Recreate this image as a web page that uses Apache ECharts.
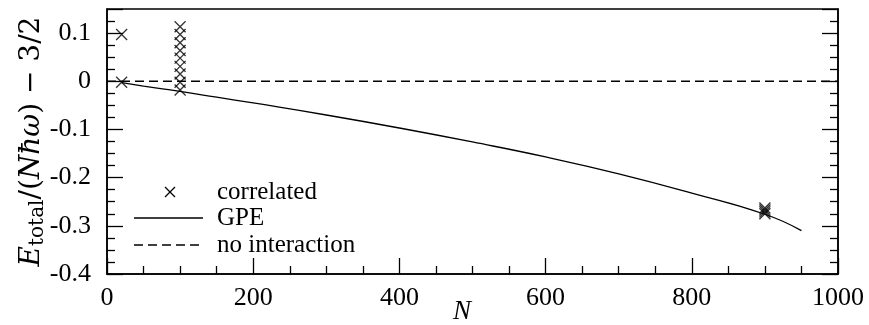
<!DOCTYPE html>
<html>
<head>
<meta charset="utf-8">
<script src="https://cdn.jsdelivr.net/npm/echarts@6/dist/echarts.min.js"></script>
<style>
  html, body { margin: 0; padding: 0; background: #fff; }
  #chart { width: 869px; height: 325px; }
</style>
</head>
<body>
<div id="chart"></div>
<script>
// Axis ticks
const xTicks = [0, 200, 400, 600, 800, 1000];
const yTicks = [-0.4, -0.3, -0.2, -0.1, 0, 0.1];
const yTop = 0.15;

// Correlated many-body results
const corrN = [20, 20, 100, 100, 100, 100, 100, 100, 100, 100, 100, 900, 900, 900, 900];
const corrE = [0.097, -0.002, 0.113, 0.097, 0.080, 0.064, 0.048, 0.031, 0.015, -0.002, -0.018,
               -0.263, -0.267, -0.271, -0.275];

// Gross-Pitaevskii curve
const gpeN = [20, 50, 100, 150, 200, 300, 400, 500, 600, 700, 800, 900, 950];
const gpeE = [-0.003, -0.010, -0.021, -0.033, -0.045, -0.070, -0.097, -0.126, -0.157, -0.192, -0.232, -0.276, -0.310];

// Non-interacting reference
const freeN = [0, 1000];
const freeE = [0, 0];

// Legend entries
const legendNames = ['correlated', 'GPE', 'no interaction'];

const FONT = 'Liberation Serif';
const TITLE_FONT = 'DejaVu Serif';
const zip = (a, b) => a.map((v, i) => [v, b[i]]);
const crossPath = 'path://M0,0L10,10M10,0L0,10';

const chart = echarts.init(document.getElementById('chart'), null, { renderer: 'canvas' });

const yLabel = v => {
  const r = Math.round(v * 100) / 100;
  return r === 0 ? '0' : String(r);
};

// Hand-built legend box: sample glyph on the left, label on the right
const LX = 134, LY = [192, 218, 245], TX = 217;
const legendGraphics = [
  { type: 'line', shape: { x1: LX + 31, y1: LY[0] - 5, x2: LX + 41, y2: LY[0] + 5 }, style: { stroke: '#000', lineWidth: 1.3 } },
  { type: 'line', shape: { x1: LX + 31, y1: LY[0] + 5, x2: LX + 41, y2: LY[0] - 5 }, style: { stroke: '#000', lineWidth: 1.3 } },
  { type: 'line', shape: { x1: LX, y1: LY[1], x2: LX + 69, y2: LY[1] }, style: { stroke: '#000', lineWidth: 1.3 } },
  { type: 'line', shape: { x1: LX, y1: LY[2], x2: LX + 69, y2: LY[2] }, style: { stroke: '#000', lineWidth: 1.3, lineDash: [9, 5] } }
].concat(legendNames.map((name, i) => ({
  type: 'text', x: TX, y: LY[i],
  style: { text: name, font: '25px "' + FONT + '"', fill: '#000', textVerticalAlign: 'middle', verticalAlign: 'middle' }
})));

// Horizontal axis title
legendGraphics.push({
  type: 'text', x: 462, y: 312,
  style: { text: 'N', font: 'italic 27px "' + FONT + '"', fill: '#000', align: 'center', verticalAlign: 'middle' }
});

chart.setOption({
  animation: false,
  backgroundColor: '#fff',
  grid: {
    left: 107, right: 31, top: 9, bottom: 51,
    outerBoundsMode: 'none',
    containLabel: false,
    show: true, borderColor: '#000', borderWidth: 1.5, backgroundColor: 'transparent'
  },
  graphic: legendGraphics,
  xAxis: {
    type: 'value',
    min: xTicks[0], max: xTicks[xTicks.length - 1], interval: 200,
    axisLine: { onZero: false, lineStyle: { color: '#000', width: 1.5 } },
    axisTick: { inside: true, length: 16, lineStyle: { color: '#000', width: 1.3 } },
    minorTick: { show: true, splitNumber: 4, length: 8, lineStyle: { color: '#000', width: 1.3 } },
    axisLabel: { fontFamily: FONT, fontSize: 26, color: '#000', margin: 11, formatter: v => String(v) },
    splitLine: { show: false }
  },
  yAxis: [{
    type: 'value',
    min: yTicks[0], max: yTop, interval: 0.1,
    name: '{e|E}{sub|total}{t|/(}{e|Nħω}{t|) − 3/2}',
    nameLocation: 'middle', nameGap: 60, nameRotate: 90, nameMoveOverlap: false,
    nameTextStyle: {
      color: '#000',
      rich: {
        e: { fontFamily: TITLE_FONT, fontStyle: 'italic', fontSize: 28, color: '#000', lineHeight: 30 },
        t: { fontFamily: TITLE_FONT, fontSize: 28, color: '#000', lineHeight: 30 },
        sub: { fontFamily: TITLE_FONT, fontSize: 20, color: '#000', lineHeight: 30, padding: [12, 0, 0, 0] }
      }
    },
    axisLine: { onZero: false, lineStyle: { color: '#000', width: 1.5 } },
    axisTick: { inside: true, length: 16, lineStyle: { color: '#000', width: 1.3 } },
    minorTick: { show: true, splitNumber: 4, length: 8, lineStyle: { color: '#000', width: 1.3 } },
    axisLabel: { fontFamily: FONT, fontSize: 26, color: '#000', margin: 16, formatter: yLabel,
                 showMaxLabel: false },
    splitLine: { show: false }
  }, {
    type: 'value',
    position: 'right',
    min: yTicks[0], max: yTop, interval: 0.1,
    axisLine: { show: true, onZero: false, lineStyle: { color: '#000', width: 1.5 } },
    axisTick: { inside: true, length: 16, lineStyle: { color: '#000', width: 1.3 } },
    minorTick: { show: true, splitNumber: 4, length: 8, lineStyle: { color: '#000', width: 1.3 } },
    axisLabel: { show: false },
    splitLine: { show: false }
  }],
  series: [{
    name: legendNames[0],
    type: 'scatter',
    data: zip(corrN, corrE),
    symbol: crossPath,
    symbolSize: 11,
    itemStyle: { color: 'rgba(0,0,0,0)', borderColor: '#000', borderWidth: 1.3 },
    z: 5
  }, {
    name: legendNames[1],
    type: 'line',
    data: zip(gpeN, gpeE),
    smooth: true,
    showSymbol: false,
    symbol: 'none',
    lineStyle: { color: '#000', width: 1.3 }
  }, {
    name: legendNames[2],
    type: 'line',
    data: zip(freeN, freeE),
    showSymbol: false,
    symbol: 'none',
    lineStyle: { color: '#000', width: 1.3, type: [9, 5] }
  }]
});
</script>
</body>
</html>
